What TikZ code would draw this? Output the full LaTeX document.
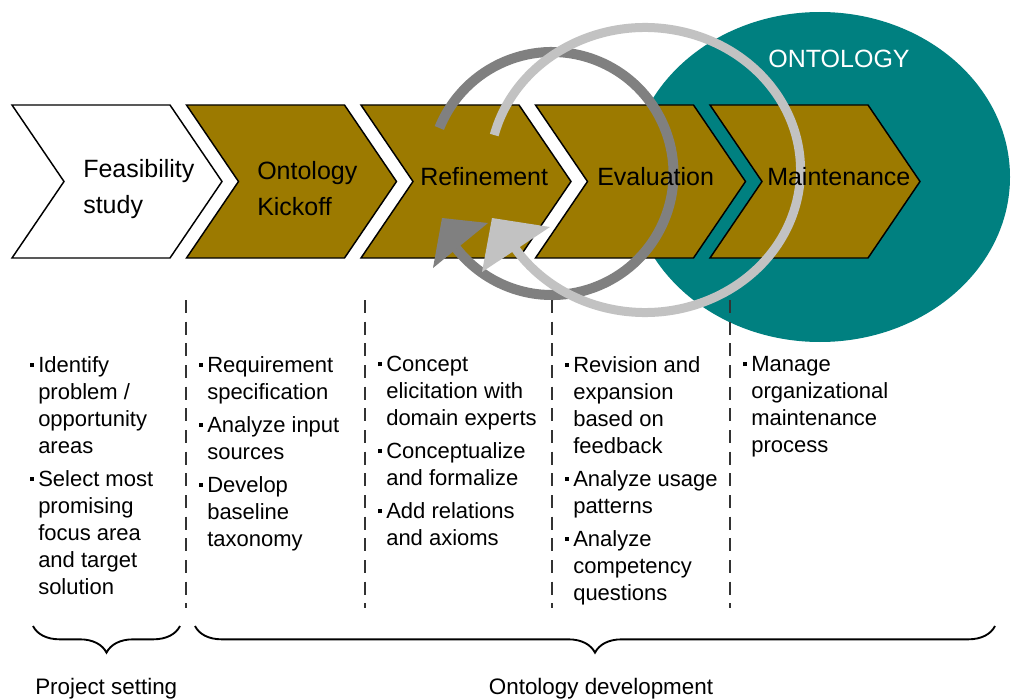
\documentclass[tikz,border=0pt]{standalone}
\usepackage{fontspec}
\setmainfont{Liberation Sans}
\usetikzlibrary{decorations.pathreplacing}
\definecolor{chevgold}{RGB}{156,122,0}
\definecolor{tealc}{RGB}{0,128,128}
\definecolor{ringdark}{RGB}{128,128,128}
\definecolor{ringlight}{RGB}{194,194,194}
\newcommand\bul{\llap{\raisebox{4pt}{\rule{2.9pt}{2.9pt}}\hspace{3.2pt}}}
\tikzset{
  chevline/.style={draw=black, line width=1.1pt, line join=miter},
  chevlabel/.style={anchor=west, align=left, inner sep=0pt, font=\fontsize{18.75pt}{27pt}\selectfont},
  bullets/.style={anchor=north west, align=left, inner sep=0pt, font=\fontsize{16.5pt}{20.25pt}\selectfont},
  divider/.style={draw=black!80, line width=2.2pt, dash pattern=on 9.75pt off 6.5pt},
  bracestyle/.style={draw=black, line width=1.4pt, decorate, decoration={brace, mirror, amplitude=20pt, aspect=0.5}},
  bottomlabel/.style={inner sep=0pt, font=\fontsize{16.8pt}{20pt}\selectfont},
}
\begin{document}
\begin{tikzpicture}[x=0.75pt, y=0.75pt]
\useasboundingbox (0,0) rectangle (1011,-699);
\fill[white] (0,0) rectangle (1011,-699);
% ontology ellipse
\fill[tealc] (820,-177) ellipse [x radius=190, y radius=165];
% chevrons
\foreach \L/\f in {12/white, 186.5/chevgold, 361/chevgold, 535.5/chevgold, 710/chevgold}
  \filldraw[fill=\f, chevline] (\L,-105) -- ++(158,0) -- ++(52,-76.5) -- ++(-52,-76.5) -- ++(-158,0) -- ++(52,76.5) -- cycle;
\node[inner sep=0pt, text=white, font=\fontsize{18.75pt}{20pt}\selectfont] (onto) at (839,-59) {ONTOLOGY};
% cycle rings
\draw[ringdark, line width=7.5pt] ([shift={(158:121.5)}]552,-173.5) arc[start angle=158, end angle=-142, radius=121.5];
\draw[ringlight, line width=6.75pt] ([shift={(165.8:155.5 and 142.5)}]645,-170) arc[start angle=165.8, end angle=-147.2, x radius=155.5, y radius=142.5];
\fill[ringdark] (442,-218) -- (433,-268) -- (488,-223) -- cycle;
\fill[ringlight] (492,-218) -- (482,-272) -- (550,-227) -- cycle;
% chevron labels
\node[chevlabel] (feas) at (83,-189) {Feasibility\\study};
\node[chevlabel] (kick) at (257,-189) {Ontology\\Kickoff};
\node[chevlabel] (refi) at (420,-177) {Refinement};
\node[chevlabel] (eval) at (597,-177) {Evaluation};
\node[chevlabel] (main) at (767,-177) {Maintenance};
% dividers
\foreach \x in {186,365,552,730}
  \draw[divider] (\x,-300) -- (\x,-608);
% activity lists
\node[bullets] (c1) at (38,-356) {\bul Identify\\problem /\\opportunity\\areas\\[4.5pt]\bul Select most\\promising\\focus area\\and target\\solution};
\node[bullets] (c2) at (207,-356) {\bul Requirement\\specification\\[4.5pt]\bul Analyze input\\sources\\[4.5pt]\bul Develop\\baseline\\taxonomy};
\node[bullets] (c3) at (386,-356) {\bul Concept\\elicitation with\\domain experts\\[4.5pt]\bul Conceptualize\\and formalize\\[4.5pt]\bul Add relations\\and axioms};
\node[bullets] (c4) at (573,-356) {\bul Revision and\\expansion\\based on\\feedback\\[4.5pt]\bul Analyze usage\\patterns\\[4.5pt]\bul Analyze\\competency\\questions};
\node[bullets] (c5) at (751,-356) {\bul Manage\\organizational\\maintenance\\process};
% braces
\coordinate (b1s) at (33,-626);
\coordinate (b1e) at (180,-626);
\coordinate (b2s) at (195,-626);
\coordinate (b2e) at (995,-626);
\draw[bracestyle] (b1s) -- (b1e);
\draw[bracestyle] (b2s) -- (b2e);
\node[bottomlabel, anchor=base west] (ps) at (35,-694) {Project setting};
\node[bottomlabel, anchor=base] (od) at (601,-694) {Ontology development};
\end{tikzpicture}
\end{document}
